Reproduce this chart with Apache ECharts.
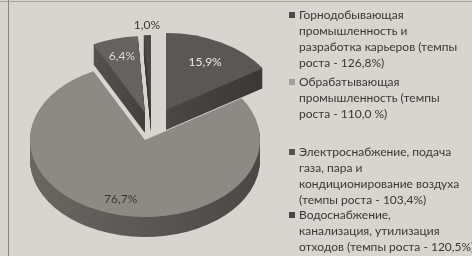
<!DOCTYPE html>
<html>
<head>
<meta charset="utf-8">
<script src="https://cdn.jsdelivr.net/npm/echarts@6/dist/echarts.min.js"></script>
<style>
html,body{margin:0;padding:0;background:#d8d4cf;}
#chart{width:472px;height:256px;}
</style>
</head>
<body>
<div id="chart"></div>
<script>
// data
const categories = [
    'Горнодобывающая\nпромышленность и\nразработка карьеров (темпы\nроста - 126,8%)',
    'Обрабатывающая\nпромышленность (темпы\nроста - 110,0 %)',
    'Электроснабжение, подача\nгаза, пара и\nкондиционирование воздуха\n(темпы роста - 103,4%)',
    'Водоснабжение,\nканализация, утилизация\nотходов (темпы роста - 120,5%)'
];
const shares = [15.9, 76.7, 6.4, 1.0];

// look
const topColors = ['#5a5855', '#8d8a86', '#65625f', '#4c4a47'];
const sideColors = [['#4a4845', '#3a3836'], ['#6a6763', '#4a4845'], ['#55524f', '#43413e'], ['#3e3c3a', '#363432']];
const markColors = ['#4c4a48', '#a29f9b', '#55534f', '#4a4846'];
const labelColors = ['#ebe8e4', '#3a3836', '#dcd9d4', '#3a3836'];
const explode = [[21, -30], [0, 0], [0, -27], [6, -28]];
const labelRadius = [0.71, 0.8, 0.77, 1.13];
const legendTops = [7, 74, 144, 207];

const CX = 145, CY = 140, RX = 115, RY = 77, DEPTH = 20;
const total = shares.reduce((a, b) => a + b, 0);

function sliceRenderer(i){
    return function(params, api){
        let before = 0;
        for(let j = 0; j < i; j++) before += shares[j];
        const a0 = -Math.PI / 2 + before / total * Math.PI * 2;
        const a1 = a0 + api.value(0) / total * Math.PI * 2;
        const ox = CX + explode[i][0], oy = CY + explode[i][1];
        const shape = {cx:0, cy:0, r:RX, r0:0, startAngle:a0, endAngle:a1, clockwise:true};
        const children = [];
        for(let d = DEPTH; d >= 1; d--){
            children.push({
                type:'sector', x:ox, y:oy + d, scaleY:RY / RX, shape:shape,
                style:{fill:{type:'linear', x:0, y:0, x2:1, y2:0,
                    colorStops:[{offset:0, color:sideColors[i][0]}, {offset:1, color:sideColors[i][1]}]}}
            });
        }
        children.push({type:'sector', x:ox, y:oy, scaleY:RY / RX, shape:shape, style:{fill:topColors[i]}});
        const mid = (a0 + a1) / 2;
        children.push({
            type:'text',
            x: ox + Math.cos(mid) * RX * labelRadius[i],
            y: oy + Math.sin(mid) * RY * labelRadius[i],
            style:{
                text: api.value(0).toFixed(1).replace('.', ',') + '%',
                fill: labelColors[i],
                font: '12px Lato, "Liberation Sans", sans-serif',
                align: 'center', verticalAlign: 'middle'
            }
        });
        return {type:'group', children:children};
    };
}

const rich = {
    g:{width:4, height:7, lineHeight:16},
    ind:{width:10, height:7, lineHeight:16}
};
markColors.forEach((c, i) => {
    rich['m' + i] = {width:6, height:6, lineHeight:16, backgroundColor:c};
});

const chart = echarts.init(document.getElementById('chart'));
chart.setOption({
    animation:false,
    backgroundColor:'#d8d4cf',
    graphic:[
        {type:'line', shape:{x1:8.5, y1:0, x2:8.5, y2:256}, style:{stroke:'#86827d', lineWidth:1}},
        {type:'line', shape:{x1:0, y1:1.5, x2:472, y2:1.5}, style:{stroke:'#a29e99', lineWidth:1}}
    ],
    legend: categories.map((name, i) => ({
        data:[name],
        orient:'vertical',
        left:284,
        top:legendTops[i],
        padding:0,
        icon:'none',
        itemWidth:0,
        itemHeight:16,
        selectedMode:false,
        formatter: n => n.split('\n').map((line, j) => (j === 0 ? '{m' + i + '|}{g|}' : '{ind|}') + line).join('\n'),
        textStyle:{
            color:'#3a3836',
            fontFamily:'Lato, "Liberation Sans", sans-serif',
            fontSize:12,
            lineHeight:16,
            rich:rich
        }
    })),
    series: categories.map((name, i) => ({
        name:name,
        type:'custom',
        coordinateSystem:'none',
        z: i === 1 ? 3 : 2,
        silent:true,
        itemStyle:{color:markColors[i]},
        data:[[shares[i]]],
        renderItem:sliceRenderer(i)
    }))
});
</script>
</body>
</html>
